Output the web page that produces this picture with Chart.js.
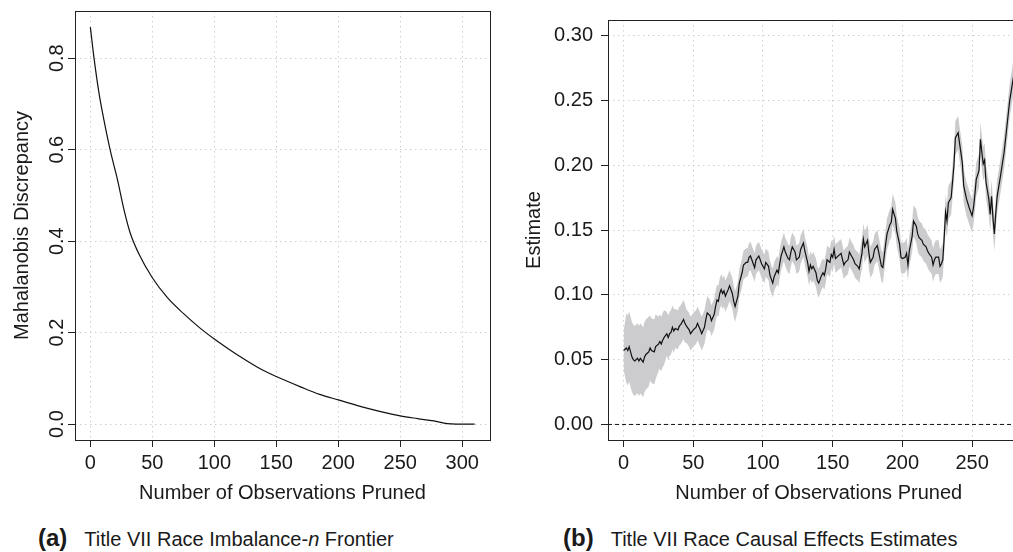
<!DOCTYPE html>
<html>
<head>
<meta charset="utf-8">
<script src="https://cdn.jsdelivr.net/npm/chart.js@4"></script>
<style>
html, body { margin: 0; padding: 0; background: #fff; }
body { position: relative; width: 1013px; height: 552px; overflow: hidden; }
.panel { position: absolute; top: 0; }
.panel canvas { display: block; }
.caption { position: absolute; top: 526px; font-family: "Liberation Sans", Arial, sans-serif; font-size: 20px; line-height: 24px; color: #1a1a1a; white-space: nowrap; }
.caption b { font-size: 24px; margin-right: 17px; }
</style>
</head>
<body>
<div class="panel" style="left:0px"><canvas id="frontier_chart" width="510" height="510"></canvas></div>
<div class="panel" style="left:510px"><canvas id="estimates_chart" width="540" height="510"></canvas></div>
<div class="caption" style="left:38px"><b>(a)</b>Title VII Race Imbalance-<i>n</i> Frontier</div>
<div class="caption" style="left:563px"><b>(b)</b>Title VII Race Causal Effects Estimates</div>
<script>
// (a) imbalance-n frontier
const frontier_x_data = [0, 3, 7, 11, 16, 22, 27, 32, 39, 50, 62, 75, 88, 100, 110, 120, 137, 150, 170, 185, 200, 223, 250, 264, 277, 288, 295, 310];
const frontier_y_data = [0.868, 0.799, 0.723, 0.664, 0.599, 0.533, 0.470, 0.419, 0.373, 0.320, 0.277, 0.242, 0.211, 0.186, 0.167, 0.149, 0.121, 0.104, 0.081, 0.065, 0.053, 0.035, 0.018, 0.012, 0.007, 0.001, 0.0, 0.0];
const frontier_x_ticks = [0, 50, 100, 150, 200, 250, 300];
const frontier_y_ticks = [0, 0.2, 0.4, 0.6, 0.8];

// (b) causal effect estimates with confidence band
const estimates_x_data = [0, 2, 3, 4, 6, 7, 8, 10, 11, 12, 14, 15, 16, 18, 19, 20, 22, 23, 25, 26, 27, 28, 29, 31, 32, 33, 34, 35, 36, 37, 39, 40, 41, 43, 44, 45, 47, 48, 50, 52, 53, 55, 56, 58, 59, 60, 62, 63, 65, 66, 67, 68, 69, 70, 71, 72, 73, 75, 76, 78, 79, 80, 82, 83, 85, 86, 88, 89, 90, 91, 93, 94, 95, 97, 98, 99, 101, 102, 104, 105, 107, 108, 110, 111, 112, 113, 115, 116, 118, 119, 120, 121, 123, 124, 126, 127, 129, 130, 132, 133, 134, 135, 136, 138, 139, 140, 142, 143, 144, 145, 146, 148, 149, 150, 151, 152, 154, 155, 156, 158, 159, 161, 162, 164, 165, 166, 168, 169, 171, 172, 173, 175, 176, 177, 179, 180, 182, 183, 185, 186, 187, 188, 189, 191, 192, 193, 195, 196, 198, 199, 200, 202, 203, 204, 205, 207, 208, 210, 211, 212, 214, 215, 217, 218, 219, 221, 222, 223, 224, 226, 227, 228, 229, 230, 231, 232, 233, 234, 235, 237, 238, 240, 241, 243, 244, 246, 248, 250, 251, 252, 253, 255, 256, 257, 258, 259, 260, 262, 263, 264, 265, 266, 267, 268, 270, 273, 275, 277, 280];
const estimates_y_data = [0.057, 0.059, 0.057, 0.060, 0.052, 0.050, 0.049, 0.051, 0.049, 0.051, 0.048, 0.052, 0.054, 0.056, 0.059, 0.057, 0.056, 0.060, 0.062, 0.064, 0.062, 0.065, 0.067, 0.070, 0.067, 0.070, 0.071, 0.075, 0.072, 0.074, 0.073, 0.076, 0.077, 0.081, 0.078, 0.076, 0.073, 0.070, 0.073, 0.075, 0.078, 0.073, 0.070, 0.075, 0.081, 0.086, 0.084, 0.080, 0.085, 0.091, 0.096, 0.095, 0.101, 0.104, 0.101, 0.103, 0.099, 0.104, 0.107, 0.101, 0.095, 0.091, 0.099, 0.109, 0.117, 0.123, 0.125, 0.125, 0.129, 0.130, 0.124, 0.121, 0.127, 0.130, 0.127, 0.124, 0.120, 0.125, 0.122, 0.115, 0.109, 0.114, 0.119, 0.117, 0.124, 0.130, 0.137, 0.133, 0.128, 0.127, 0.133, 0.137, 0.133, 0.127, 0.129, 0.135, 0.140, 0.134, 0.125, 0.118, 0.123, 0.120, 0.122, 0.117, 0.111, 0.109, 0.115, 0.117, 0.115, 0.120, 0.127, 0.125, 0.131, 0.129, 0.135, 0.128, 0.130, 0.131, 0.132, 0.123, 0.125, 0.127, 0.133, 0.129, 0.127, 0.124, 0.122, 0.120, 0.132, 0.143, 0.137, 0.142, 0.132, 0.125, 0.129, 0.135, 0.138, 0.133, 0.122, 0.121, 0.130, 0.139, 0.147, 0.154, 0.156, 0.166, 0.159, 0.149, 0.139, 0.129, 0.128, 0.129, 0.132, 0.123, 0.134, 0.145, 0.157, 0.153, 0.147, 0.144, 0.142, 0.139, 0.137, 0.134, 0.132, 0.129, 0.123, 0.127, 0.129, 0.129, 0.122, 0.124, 0.127, 0.144, 0.164, 0.157, 0.171, 0.173, 0.175, 0.200, 0.221, 0.225, 0.217, 0.202, 0.184, 0.174, 0.167, 0.161, 0.167, 0.177, 0.189, 0.196, 0.220, 0.210, 0.201, 0.204, 0.187, 0.174, 0.162, 0.176, 0.159, 0.147, 0.163, 0.176, 0.189, 0.210, 0.230, 0.250, 0.270];
const estimates_lower_data = [0.042, 0.032, 0.030, 0.033, 0.025, 0.023, 0.022, 0.024, 0.022, 0.024, 0.021, 0.025, 0.027, 0.029, 0.034, 0.032, 0.031, 0.035, 0.041, 0.043, 0.041, 0.044, 0.046, 0.053, 0.050, 0.053, 0.054, 0.058, 0.055, 0.059, 0.058, 0.061, 0.062, 0.066, 0.063, 0.063, 0.060, 0.057, 0.060, 0.062, 0.065, 0.060, 0.057, 0.062, 0.068, 0.073, 0.072, 0.068, 0.073, 0.079, 0.084, 0.083, 0.089, 0.092, 0.089, 0.091, 0.087, 0.092, 0.095, 0.089, 0.083, 0.079, 0.088, 0.098, 0.106, 0.112, 0.114, 0.114, 0.118, 0.119, 0.113, 0.110, 0.116, 0.119, 0.116, 0.113, 0.109, 0.114, 0.111, 0.104, 0.098, 0.103, 0.108, 0.106, 0.113, 0.119, 0.126, 0.122, 0.117, 0.116, 0.122, 0.126, 0.122, 0.116, 0.118, 0.124, 0.129, 0.123, 0.114, 0.107, 0.112, 0.109, 0.111, 0.106, 0.100, 0.098, 0.104, 0.106, 0.104, 0.109, 0.116, 0.114, 0.120, 0.118, 0.124, 0.117, 0.119, 0.120, 0.121, 0.112, 0.114, 0.116, 0.122, 0.118, 0.116, 0.113, 0.111, 0.109, 0.120, 0.131, 0.125, 0.130, 0.120, 0.113, 0.117, 0.123, 0.126, 0.121, 0.110, 0.109, 0.118, 0.127, 0.135, 0.142, 0.144, 0.154, 0.147, 0.137, 0.127, 0.117, 0.116, 0.117, 0.120, 0.111, 0.122, 0.133, 0.145, 0.140, 0.134, 0.131, 0.129, 0.126, 0.124, 0.121, 0.119, 0.116, 0.110, 0.114, 0.116, 0.116, 0.109, 0.111, 0.114, 0.131, 0.151, 0.144, 0.158, 0.160, 0.162, 0.187, 0.208, 0.212, 0.204, 0.189, 0.171, 0.161, 0.154, 0.148, 0.154, 0.164, 0.176, 0.183, 0.207, 0.197, 0.188, 0.191, 0.174, 0.161, 0.149, 0.163, 0.146, 0.134, 0.150, 0.163, 0.176, 0.197, 0.217, 0.237, 0.257];
const estimates_upper_data = [0.072, 0.086, 0.084, 0.087, 0.079, 0.077, 0.076, 0.078, 0.076, 0.078, 0.075, 0.079, 0.081, 0.083, 0.084, 0.082, 0.081, 0.085, 0.083, 0.085, 0.083, 0.086, 0.088, 0.087, 0.084, 0.087, 0.088, 0.092, 0.089, 0.089, 0.088, 0.091, 0.092, 0.096, 0.093, 0.089, 0.086, 0.083, 0.086, 0.088, 0.091, 0.086, 0.083, 0.088, 0.094, 0.099, 0.096, 0.092, 0.097, 0.103, 0.108, 0.107, 0.113, 0.116, 0.113, 0.115, 0.111, 0.116, 0.119, 0.113, 0.107, 0.103, 0.110, 0.120, 0.128, 0.134, 0.136, 0.136, 0.140, 0.141, 0.135, 0.132, 0.138, 0.141, 0.138, 0.135, 0.131, 0.136, 0.133, 0.126, 0.120, 0.125, 0.130, 0.128, 0.135, 0.141, 0.148, 0.144, 0.139, 0.138, 0.144, 0.148, 0.144, 0.138, 0.140, 0.146, 0.151, 0.145, 0.136, 0.129, 0.134, 0.131, 0.133, 0.128, 0.122, 0.120, 0.126, 0.128, 0.126, 0.131, 0.138, 0.136, 0.142, 0.140, 0.146, 0.139, 0.141, 0.142, 0.143, 0.134, 0.136, 0.138, 0.144, 0.140, 0.138, 0.135, 0.133, 0.131, 0.144, 0.155, 0.149, 0.154, 0.144, 0.137, 0.141, 0.147, 0.150, 0.145, 0.134, 0.133, 0.142, 0.151, 0.159, 0.166, 0.168, 0.178, 0.171, 0.161, 0.151, 0.141, 0.140, 0.141, 0.144, 0.135, 0.146, 0.157, 0.169, 0.166, 0.160, 0.157, 0.155, 0.152, 0.150, 0.147, 0.145, 0.142, 0.136, 0.140, 0.142, 0.142, 0.135, 0.137, 0.140, 0.157, 0.177, 0.170, 0.184, 0.186, 0.188, 0.213, 0.234, 0.238, 0.230, 0.215, 0.197, 0.187, 0.180, 0.174, 0.180, 0.190, 0.202, 0.209, 0.233, 0.223, 0.214, 0.217, 0.200, 0.187, 0.175, 0.189, 0.172, 0.160, 0.176, 0.189, 0.202, 0.223, 0.243, 0.263, 0.283];
const estimates_x_ticks = [0, 50, 100, 150, 200, 250];
const estimates_y_ticks = [0, 0.05, 0.10, 0.15, 0.20, 0.25, 0.30];

// axis ranges (R style: data range plus 4% each side)
const frontier_x_min = -12.4, frontier_x_max = 322.4;
const frontier_y_min = -0.0347, frontier_y_max = 0.9032;
const estimates_x_min = -11.2, estimates_x_max = 291.2;
const estimates_y_min = -0.012, estimates_y_max = 0.312;

Chart.defaults.font.family = "'Liberation Sans', Arial, sans-serif";
Chart.defaults.font.size = 20;
Chart.defaults.color = "#1a1a1a";

const to_points = (xs, ys) => xs.map((x, i) => ({ x: x, y: ys[i] }));

// draws the closed frame round the plot region, like R's box()
const box_plugin =
{
    id: "box",
    afterDatasetsDraw(chart)
    {
        const { ctx, chartArea } = chart;
        ctx.save();
        ctx.strokeStyle = "#222";
        ctx.lineWidth = 1;
        ctx.strokeRect(chartArea.left + 0.5, chartArea.top + 0.5, chartArea.right - chartArea.left, chartArea.bottom - chartArea.top);
        ctx.restore();
    }
};

const grid_style =
{
    color: "#cfcfcf",
    lineWidth: 1,
    tickLength: 7,
    tickColor: "#222",
    tickWidth: 1
};

const frontier_chart = new Chart("frontier_chart",
{
    type: "line",
    data:
    {
        datasets:
        [
            {
                data: to_points(frontier_x_data, frontier_y_data),
                borderColor: "#111",
                borderWidth: 1.2,
                pointRadius: 0,
                fill: false,
                cubicInterpolationMode: "monotone"
            }
        ]
    },
    options:
    {
        responsive: false,
        animation: false,
        layout: { padding: { top: 11, right: 20, left: 0, bottom: 0 } },
        plugins: { legend: { display: false }, tooltip: { enabled: false } },
        scales:
        {
            x:
            {
                type: "linear",
                min: frontier_x_min,
                max: frontier_x_max,
                afterBuildTicks: (scale) => { scale.ticks = frontier_x_ticks.map(v => ({ value: v })); },
                afterFit: (scale) => { scale.height = 70; },
                grid: grid_style,
                border: { display: false, dash: [1.5, 3.5] },
                ticks: { autoSkip: false, maxRotation: 0, padding: 4, callback: (v) => String(v) },
                title: { display: true, text: "Number of Observations Pruned", padding: { top: 0, bottom: 5 } }
            },
            y:
            {
                type: "linear",
                min: frontier_y_min,
                max: frontier_y_max,
                afterBuildTicks: (scale) => { scale.ticks = frontier_y_ticks.map(v => ({ value: v })); },
                afterFit: (scale) => { scale.width = 75; },
                grid: grid_style,
                border: { display: false, dash: [1.5, 3.5] },
                ticks: { autoSkip: false, minRotation: 90, maxRotation: 90, crossAlign: "center", padding: -3, callback: (v) => v.toFixed(1) },
                title: { display: true, text: "Mahalanobis Discrepancy", padding: { top: 10, bottom: 0 } }
            }
        }
    },
    plugins: [box_plugin]
});

const estimates_chart = new Chart("estimates_chart",
{
    type: "line",
    data:
    {
        datasets:
        [
            {
                label: "lower",
                data: to_points(estimates_x_data, estimates_lower_data),
                borderWidth: 0,
                borderColor: "rgba(0,0,0,0)",
                pointRadius: 0,
                fill: false,
                order: 3
            },
            {
                label: "upper",
                data: to_points(estimates_x_data, estimates_upper_data),
                borderWidth: 0,
                borderColor: "rgba(0,0,0,0)",
                backgroundColor: "rgb(204, 204, 207)",
                pointRadius: 0,
                fill: "-1",
                order: 2
            },
            {
                label: "zero",
                data: [{ x: estimates_x_min, y: 0 }, { x: estimates_x_max, y: 0 }],
                borderColor: "#111",
                borderWidth: 1,
                borderDash: [4, 3],
                pointRadius: 0,
                fill: false,
                order: 1
            },
            {
                label: "Estimate",
                data: to_points(estimates_x_data, estimates_y_data),
                borderColor: "#111",
                borderWidth: 1.2,
                pointRadius: 0,
                fill: false,
                order: 0
            }
        ]
    },
    options:
    {
        responsive: false,
        animation: false,
        layout: { padding: { top: 11, right: 20.5, left: 0, bottom: 0 } },
        plugins: { legend: { display: false }, tooltip: { enabled: false } },
        scales:
        {
            x:
            {
                type: "linear",
                min: estimates_x_min,
                max: estimates_x_max,
                afterBuildTicks: (scale) => { scale.ticks = estimates_x_ticks.map(v => ({ value: v })); },
                afterFit: (scale) => { scale.height = 70; },
                grid: grid_style,
                border: { display: false, dash: [1.5, 3.5] },
                ticks: { autoSkip: false, maxRotation: 0, padding: 4, callback: (v) => String(v) },
                title: { display: true, text: "Number of Observations Pruned", padding: { top: 0, bottom: 5 } }
            },
            y:
            {
                type: "linear",
                min: estimates_y_min,
                max: estimates_y_max,
                afterBuildTicks: (scale) => { scale.ticks = estimates_y_ticks.map(v => ({ value: v })); },
                afterFit: (scale) => { scale.width = 98; },
                grid: grid_style,
                border: { display: false, dash: [1.5, 3.5] },
                ticks: { autoSkip: false, padding: 8, callback: (v) => v.toFixed(2) },
                title: { display: true, text: "Estimate", padding: { top: 12, bottom: 0 } }
            }
        }
    },
    plugins: [box_plugin]
});
</script>
</body>
</html>
